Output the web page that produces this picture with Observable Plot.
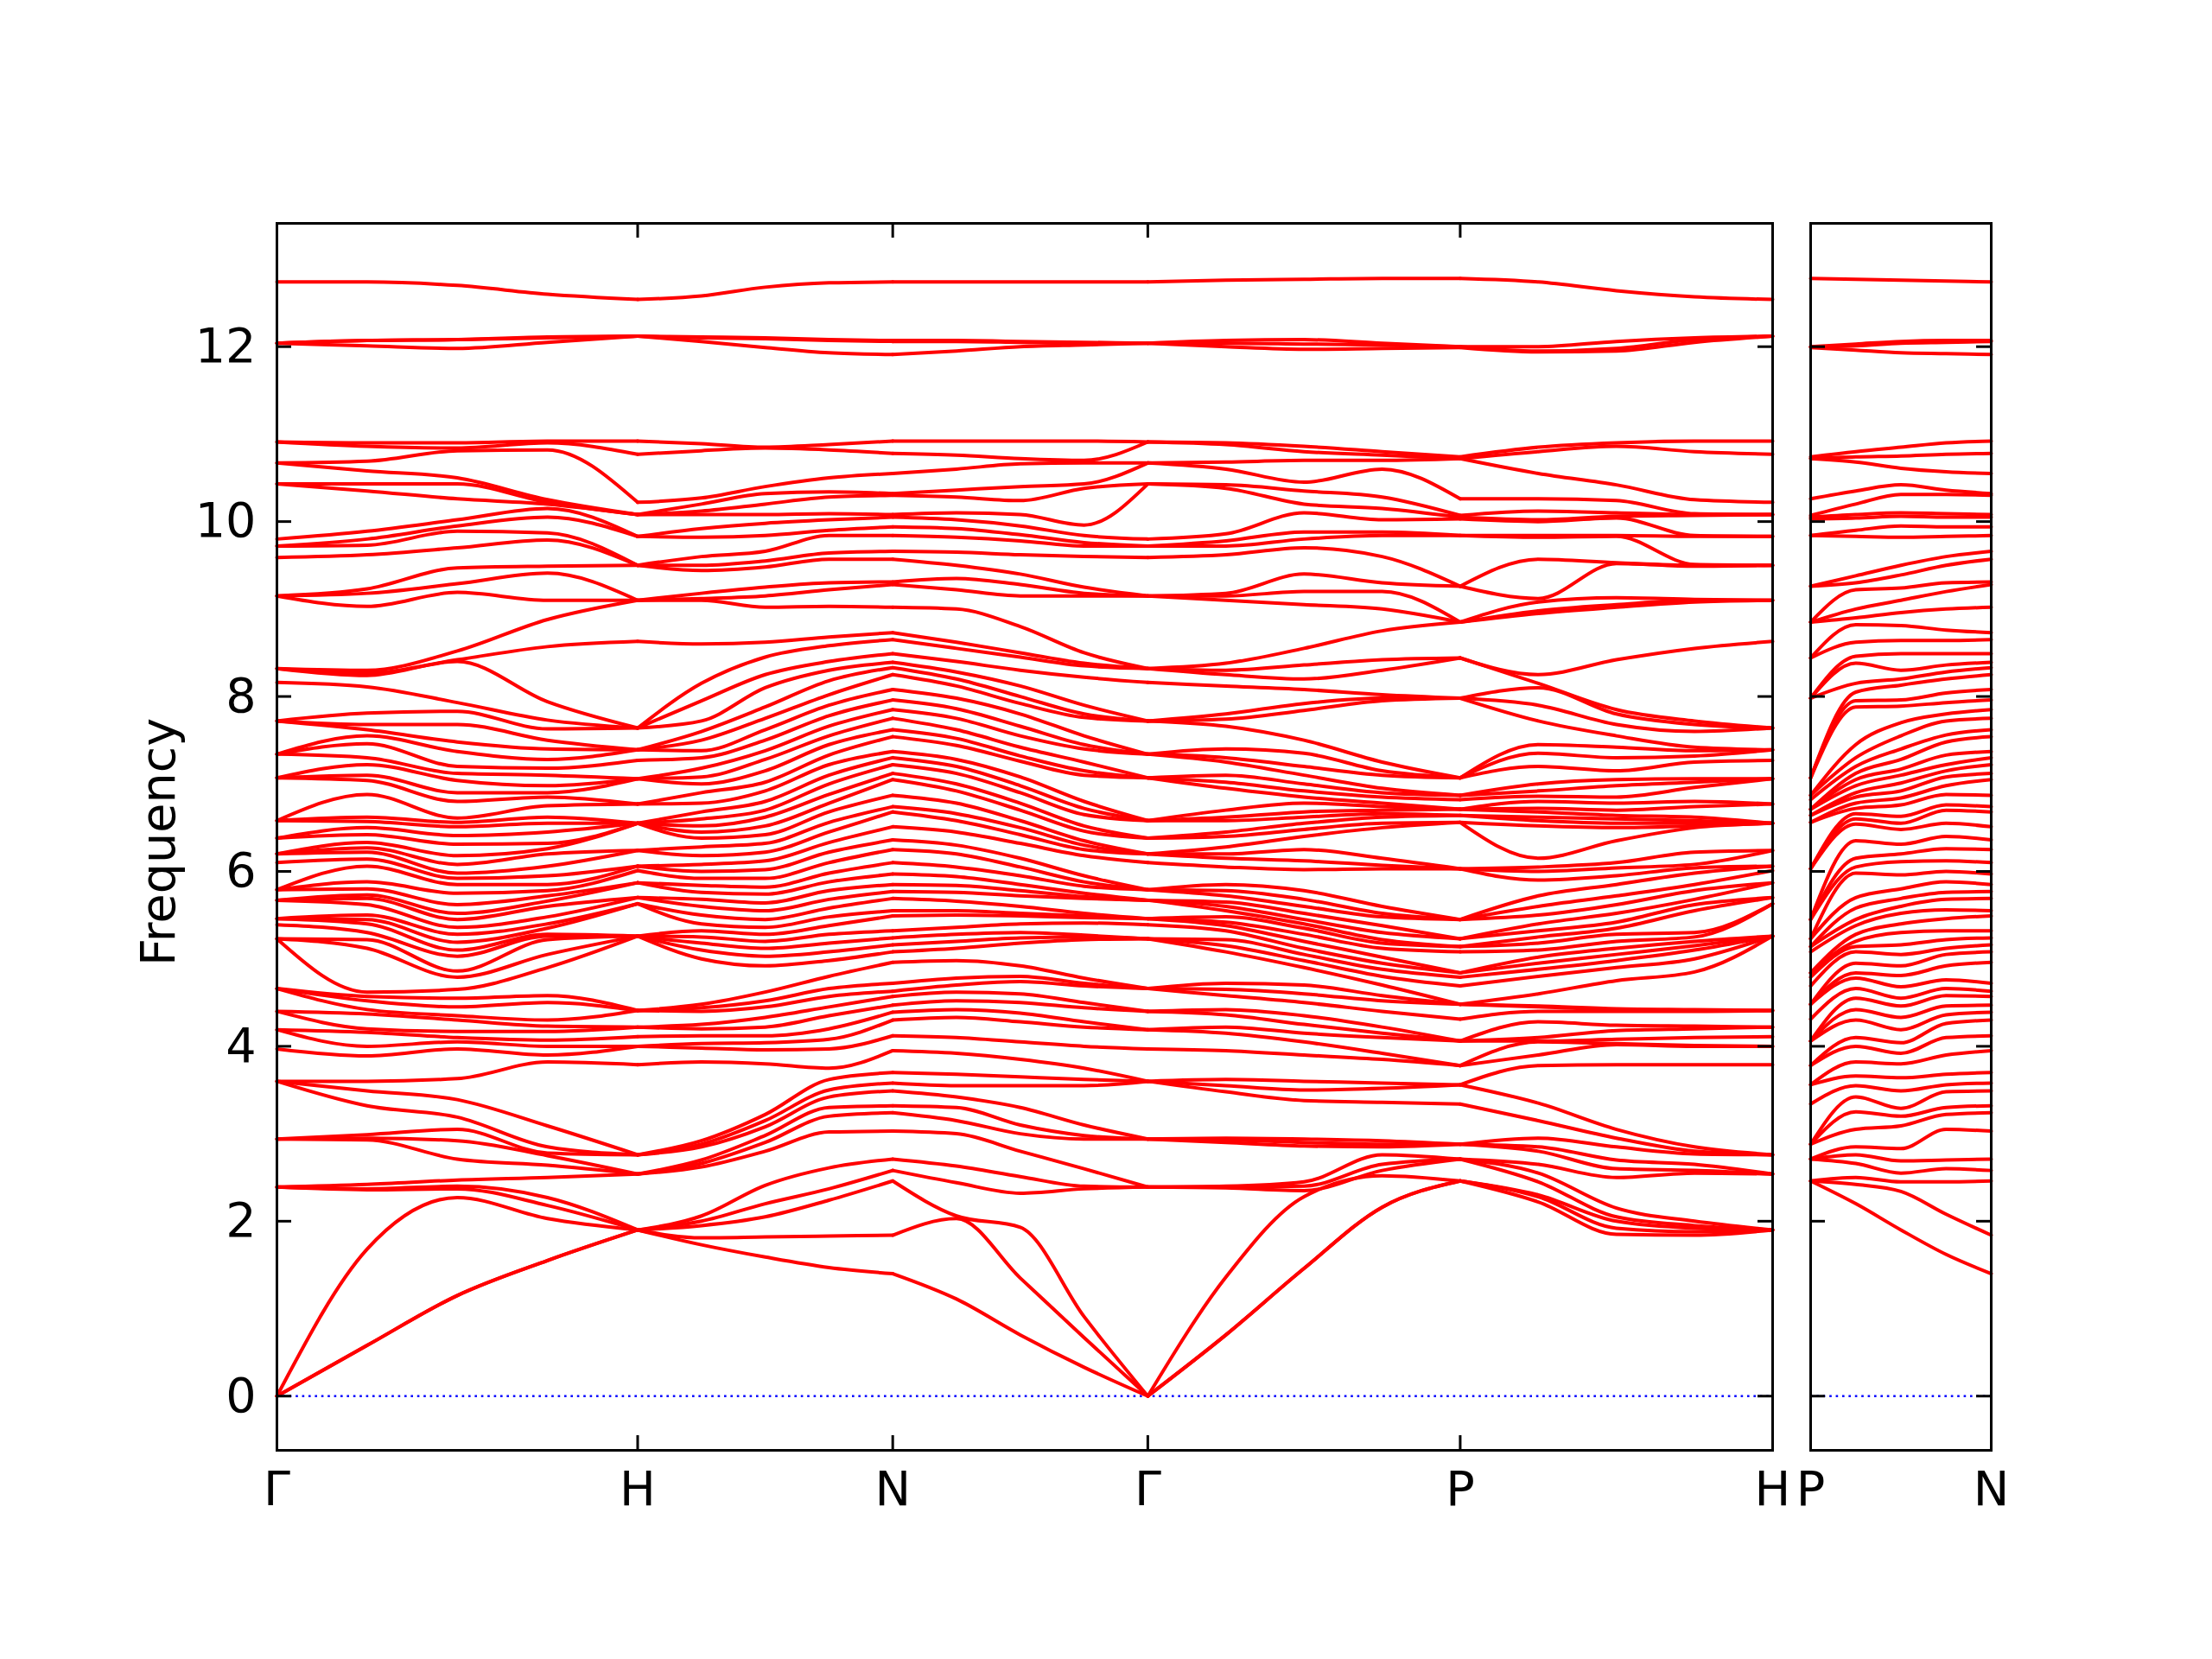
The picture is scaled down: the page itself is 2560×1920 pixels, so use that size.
<!DOCTYPE html>
<html>
<head>
<meta charset="utf-8">
<script src="https://cdn.jsdelivr.net/npm/d3@7"></script>
<script src="https://cdn.jsdelivr.net/npm/@observablehq/plot@0.6"></script>
<style>
  html, body { margin: 0; padding: 0; background: #ffffff; }
  #wrap { position: relative; width: 2560px; height: 1920px; overflow: hidden; background: #ffffff; }
  #left { position: absolute; left: 0; top: 0; width: 2070px; height: 1920px; }
  #right { position: absolute; left: 2040px; top: 0; width: 283px; height: 1920px; }
</style>
</head>
<body>
<div id="wrap"><div id="left"></div><div id="right"></div></div>
<script>
// ---------- tick labels / path ----------
const yTicks = [0, 2, 4, 6, 8, 10, 12];
const leftLabels = ["Γ", "H", "N", "Γ", "P", "H"];
const leftDist = [0, 1.0, 1.7071, 2.4142, 3.2802, 4.1463];
const rightLabels = ["P", "N"];
const rightDist = [0, 0.5];

// ---------- frequencies at high-symmetry points (sorted, descending) ----------
const G = [
12.74, 12.04, 12.04, 12.04, 10.91, 10.91, 10.67, 10.67, 10.43, 10.43,
9.80, 9.72, 9.72, 9.59, 9.15, 9.15, 9.15, 8.32, 8.32, 8.32,
8.16, 7.72, 7.72, 7.72, 7.34, 7.34, 7.34, 7.07, 7.07, 7.07,
6.58, 6.58, 6.58, 6.38, 6.38, 6.20, 6.20, 6.20, 6.10, 5.79,
5.79, 5.79, 5.67, 5.67, 5.67, 5.46, 5.46, 5.46, 5.39, 5.23,
5.23, 5.23, 4.66, 4.66, 4.66, 4.40, 4.40, 4.19, 4.19, 3.97,
3.60, 3.60, 3.60, 2.94, 2.94, 2.94, 2.39, 2.39, 2.39, 0,
0, 0];
const H = [
12.54, 12.12, 12.12, 12.12, 10.92, 10.77, 10.22, 10.08, 10.08, 10.08,
9.83, 9.83, 9.50, 9.50, 9.50, 9.10, 9.10, 9.10, 8.63, 7.64,
7.64, 7.64, 7.39, 7.39, 7.39, 7.27, 7.06, 7.06, 7.06, 6.77,
6.77, 6.55, 6.55, 6.55, 6.55, 6.55, 6.24, 6.24, 6.06, 6.06,
6.01, 5.87, 5.87, 5.70, 5.70, 5.63, 5.63, 5.26, 5.26, 5.26,
5.26, 5.26, 4.41, 4.41, 4.41, 4.22, 4.22, 4.11, 4.00, 4.00,
3.79, 2.76, 2.76, 2.76, 2.54, 2.54, 2.54, 1.90, 1.90, 1.90,
1.90, 1.90];
const N = [
12.74, 12.07, 12.06, 11.91, 10.92, 10.78, 10.55, 10.32, 10.30, 10.08,
10.05, 9.94, 9.84, 9.66, 9.57, 9.31, 9.28, 9.02, 8.73, 8.65,
8.49, 8.39, 8.33, 8.25, 8.08, 7.96, 7.85, 7.75, 7.62, 7.54,
7.37, 7.30, 7.22, 7.12, 7.05, 6.87, 6.74, 6.68, 6.51, 6.36,
6.25, 6.10, 5.97, 5.85, 5.77, 5.69, 5.55, 5.49, 5.32, 5.24,
5.16, 5.08, 4.96, 4.72, 4.63, 4.57, 4.47, 4.39, 4.30, 4.12,
3.95, 3.70, 3.58, 3.49, 3.32, 3.24, 3.03, 2.71, 2.58, 2.46,
1.84, 1.40];
const P = [
12.78, 12.00, 12.00, 11.99, 10.74, 10.72, 10.72, 10.26, 10.07, 10.05,
10.03, 9.84, 9.84, 9.26, 9.26, 8.85, 8.85, 8.85, 8.44, 8.44,
7.98, 7.98, 7.98, 7.07, 7.07, 7.07, 6.87, 6.87, 6.82, 6.71,
6.71, 6.71, 6.64, 6.64, 6.56, 6.56, 6.03, 6.03, 6.03, 5.45,
5.45, 5.45, 5.23, 5.23, 5.14, 5.14, 5.08, 4.84, 4.84, 4.79,
4.69, 4.48, 4.48, 4.48, 4.31, 4.06, 4.06, 4.06, 3.78, 3.78,
3.56, 3.56, 3.34, 2.88, 2.88, 2.88, 2.71, 2.71, 2.71, 2.46,
2.46, 2.46];

// ---------- Γ-H interior (1/4, 1/2, 3/4) ----------
const GH1 = [
12.74, 12.07, 12.07, 12.01, 10.90, 10.86, 10.69, 10.58, 10.43, 10.35,
9.89, 9.80, 9.73, 9.62, 9.23, 9.18, 9.03, 8.30, 8.27, 8.24,
8.11, 7.81, 7.68, 7.62, 7.55, 7.46, 7.30, 7.22, 7.10, 7.04,
6.88, 6.62, 6.57, 6.50, 6.42, 6.33, 6.27, 6.22, 6.14, 6.06,
5.88, 5.80, 5.73, 5.69, 5.62, 5.50, 5.45, 5.40, 5.30, 5.22,
5.12, 4.62, 4.57, 4.52, 4.42, 4.37, 4.20, 4.16, 4.00, 3.89,
3.60, 3.49, 3.32, 2.99, 2.95, 2.93, 2.42, 2.37, 2.36, 1.68,
0.58, 0.58];
const GH2 = [
12.70, 12.08, 12.08, 11.98, 10.90, 10.84, 10.81, 10.50, 10.43, 10.26,
10.02, 9.95, 9.89, 9.70, 9.47, 9.29, 9.19, 8.52, 8.42, 8.40,
7.93, 7.83, 7.68, 7.48, 7.37, 7.20, 7.12, 7.04, 6.90, 6.80,
6.61, 6.56, 6.51, 6.41, 6.31, 6.18, 6.08, 5.98, 5.92, 5.85,
5.75, 5.62, 5.52, 5.45, 5.36, 5.28, 5.19, 5.10, 5.03, 4.86,
4.79, 4.65, 4.55, 4.45, 4.35, 4.30, 4.17, 4.10, 4.05, 3.97,
3.63, 3.39, 3.19, 3.05, 2.92, 2.71, 2.47, 2.40, 2.37, 2.27,
1.15, 1.15];
const GH3 = [
12.60, 12.11, 12.10, 12.05, 10.92, 10.90, 10.82, 10.25, 10.22, 10.20,
10.15, 10.05, 9.87, 9.79, 9.49, 9.41, 9.10, 8.88, 8.57, 7.94,
7.73, 7.63, 7.50, 7.40, 7.28, 7.18, 7.10, 6.98, 6.90, 6.85,
6.75, 6.62, 6.55, 6.45, 6.32, 6.26, 6.20, 6.06, 5.95, 5.85,
5.78, 5.72, 5.66, 5.60, 5.48, 5.40, 5.35, 5.28, 5.26, 5.22,
5.05, 4.90, 4.58, 4.50, 4.30, 4.23, 4.17, 4.07, 4.00, 3.90,
3.82, 3.09, 2.85, 2.78, 2.75, 2.64, 2.50, 2.27, 2.18, 2.03,
1.55, 1.55];

// ---------- H-N interior ----------
const HN1 = [
12.58, 12.11, 12.10, 12.06, 10.89, 10.81, 10.27, 10.20, 10.12, 10.08,
9.92, 9.82, 9.60, 9.50, 9.44, 9.18, 9.12, 9.10, 8.60, 8.15,
7.95, 7.72, 7.60, 7.50, 7.38, 7.30, 7.18, 7.08, 7.00, 6.90,
6.78, 6.68, 6.60, 6.52, 6.45, 6.38, 6.28, 6.18, 6.08, 6.00,
5.92, 5.84, 5.76, 5.68, 5.60, 5.50, 5.40, 5.32, 5.25, 5.18,
5.10, 5.00, 4.48, 4.44, 4.40, 4.25, 4.20, 4.12, 4.03, 3.98,
3.82, 2.92, 2.88, 2.85, 2.70, 2.66, 2.62, 2.06, 2.00, 1.95,
1.81, 1.73];
const HN2 = [
12.68, 12.10, 12.09, 11.99, 10.85, 10.84, 10.40, 10.32, 10.20, 10.08,
9.98, 9.84, 9.66, 9.55, 9.48, 9.25, 9.15, 9.02, 8.62, 8.45,
8.25, 8.10, 7.88, 7.75, 7.62, 7.50, 7.38, 7.28, 7.15, 7.02,
6.92, 6.80, 6.70, 6.62, 6.52, 6.42, 6.32, 6.22, 6.12, 6.02,
5.92, 5.82, 5.74, 5.64, 5.55, 5.45, 5.36, 5.28, 5.20, 5.12,
5.03, 4.92, 4.62, 4.52, 4.45, 4.33, 4.22, 4.12, 4.04, 3.96,
3.80, 3.22, 3.15, 3.08, 2.98, 2.90, 2.80, 2.41, 2.20, 2.05,
1.82, 1.59];
const HN3 = [
12.73, 12.08, 12.07, 11.93, 10.88, 10.82, 10.50, 10.34, 10.28, 10.09,
10.02, 9.90, 9.84, 9.64, 9.57, 9.30, 9.22, 9.03, 8.68, 8.58,
8.40, 8.30, 8.18, 8.02, 7.90, 7.78, 7.66, 7.55, 7.45, 7.33,
7.22, 7.10, 7.00, 6.88, 6.78, 6.68, 6.56, 6.45, 6.33, 6.22,
6.10, 5.98, 5.88, 5.78, 5.68, 5.58, 5.48, 5.38, 5.28, 5.18,
5.08, 4.98, 4.80, 4.66, 4.57, 4.45, 4.35, 4.20, 4.08, 3.97,
3.75, 3.62, 3.50, 3.42, 3.30, 3.20, 3.02, 2.61, 2.37, 2.24,
1.83, 1.47];

// ---------- N-Γ interior ----------
const NG1 = [
12.74, 12.07, 12.06, 11.95, 10.92, 10.76, 10.60, 10.36, 10.28, 10.10,
10.02, 9.92, 9.82, 9.65, 9.50, 9.35, 9.22, 9.00, 8.62, 8.55,
8.40, 8.28, 8.20, 8.12, 7.98, 7.86, 7.75, 7.62, 7.52, 7.44,
7.28, 7.20, 7.12, 7.00, 6.92, 6.78, 6.66, 6.58, 6.45, 6.30,
6.20, 6.05, 5.94, 5.84, 5.76, 5.66, 5.55, 5.50, 5.36, 5.28,
5.20, 5.12, 4.98, 4.78, 4.70, 4.62, 4.52, 4.42, 4.33, 4.10,
3.92, 3.68, 3.55, 3.42, 3.30, 3.15, 3.00, 2.63, 2.44, 2.06,
2.03, 1.11];
const NG2 = [
12.74, 12.06, 12.05, 12.00, 10.92, 10.72, 10.66, 10.40, 10.24, 10.08,
9.95, 9.85, 9.78, 9.62, 9.40, 9.28, 9.15, 8.80, 8.50, 8.45,
8.30, 8.12, 8.00, 7.92, 7.80, 7.66, 7.55, 7.42, 7.32, 7.26,
7.08, 6.98, 6.90, 6.78, 6.70, 6.58, 6.50, 6.42, 6.32, 6.15,
6.05, 5.95, 5.85, 5.78, 5.72, 5.60, 5.52, 5.49, 5.40, 5.30,
5.24, 5.18, 4.92, 4.80, 4.74, 4.60, 4.50, 4.38, 4.28, 4.05,
3.85, 3.65, 3.55, 3.30, 3.10, 3.00, 2.80, 2.51, 2.32, 1.93,
1.35, 0.70];
const NG3 = [
12.74, 12.05, 12.04, 12.02, 10.92, 10.70, 10.67, 10.43, 10.38, 9.96,
9.84, 9.76, 9.72, 9.60, 9.25, 9.18, 9.15, 8.50, 8.38, 8.35,
8.22, 7.90, 7.80, 7.76, 7.55, 7.45, 7.40, 7.25, 7.15, 7.10,
6.80, 6.72, 6.65, 6.52, 6.46, 6.35, 6.30, 6.25, 6.18, 5.95,
5.88, 5.83, 5.75, 5.71, 5.69, 5.52, 5.49, 5.47, 5.41, 5.27,
5.25, 5.22, 4.78, 4.72, 4.69, 4.50, 4.44, 4.28, 4.22, 4.00,
3.75, 3.62, 3.55, 3.10, 2.98, 2.94, 2.60, 2.40, 2.37, 0.91,
0.67, 0.33];

// ---------- Γ-P interior ----------
const GP1 = [
12.76, 12.07, 12.04, 12.00, 10.90, 10.88, 10.68, 10.60, 10.42, 10.38,
9.86, 9.78, 9.72, 9.62, 9.18, 9.15, 9.10, 8.38, 8.30, 8.25,
8.12, 7.80, 7.74, 7.66, 7.40, 7.30, 7.25, 7.10, 7.02, 6.95,
6.70, 6.62, 6.58, 6.45, 6.40, 6.28, 6.20, 6.15, 6.05, 5.85,
5.78, 5.72, 5.65, 5.60, 5.55, 5.48, 5.42, 5.38, 5.32, 5.22,
5.15, 5.08, 4.72, 4.65, 4.58, 4.42, 4.36, 4.22, 4.15, 3.95,
3.62, 3.55, 3.48, 2.95, 2.93, 2.90, 2.40, 2.39, 2.38, 1.36,
0.70, 0.70];
const GP2 = [
12.77, 12.08, 12.03, 11.97, 10.86, 10.80, 10.70, 10.45, 10.35, 10.20,
10.10, 9.88, 9.80, 9.70, 9.40, 9.20, 9.05, 8.55, 8.36, 8.20,
8.08, 7.92, 7.84, 7.50, 7.35, 7.20, 7.10, 7.00, 6.92, 6.85,
6.78, 6.68, 6.62, 6.55, 6.48, 6.40, 6.25, 6.12, 6.02, 5.78,
5.68, 5.60, 5.52, 5.45, 5.40, 5.35, 5.28, 5.20, 5.12, 5.05,
4.98, 4.90, 4.70, 4.60, 4.50, 4.35, 4.25, 4.15, 4.05, 3.90,
3.60, 3.50, 3.38, 2.94, 2.90, 2.86, 2.45, 2.40, 2.35, 2.28,
1.46, 1.46];
const GP3 = [
12.78, 12.04, 12.02, 11.98, 10.80, 10.76, 10.70, 10.60, 10.28, 10.15,
10.02, 9.88, 9.84, 9.60, 9.30, 9.20, 9.00, 8.75, 8.42, 8.30,
8.02, 7.98, 7.95, 7.25, 7.15, 7.10, 6.95, 6.90, 6.85, 6.78,
6.74, 6.70, 6.66, 6.62, 6.55, 6.50, 6.15, 6.07, 6.03, 5.60,
5.52, 5.48, 5.38, 5.30, 5.22, 5.18, 5.12, 5.02, 4.95, 4.88,
4.80, 4.70, 4.58, 4.52, 4.40, 4.22, 4.15, 4.10, 3.92, 3.85,
3.58, 3.52, 3.36, 2.92, 2.88, 2.85, 2.76, 2.65, 2.58, 2.52,
2.16, 2.16];

// ---------- P-H interior ----------
const PH1 = [
12.74, 12.00, 11.95, 11.94, 10.85, 10.80, 10.55, 10.26, 10.12, 10.02,
10.00, 9.84, 9.82, 9.57, 9.12, 9.08, 8.98, 8.95, 8.25, 8.15,
8.10, 7.90, 7.72, 7.45, 7.35, 7.20, 7.00, 6.92, 6.86, 6.80,
6.72, 6.68, 6.62, 6.58, 6.52, 6.15, 6.05, 6.00, 5.90, 5.72,
5.60, 5.50, 5.40, 5.32, 5.25, 5.18, 5.10, 5.02, 4.95, 4.88,
4.80, 4.60, 4.46, 4.45, 4.40, 4.28, 4.10, 4.06, 4.05, 3.90,
3.78, 3.35, 3.15, 2.95, 2.85, 2.80, 2.65, 2.55, 2.45, 2.30,
2.28, 2.22];
const PH2 = [
12.64, 12.06, 11.98, 11.95, 10.90, 10.86, 10.42, 10.24, 10.10, 10.06,
10.04, 9.84, 9.83, 9.53, 9.52, 9.13, 9.05, 9.02, 8.42, 7.85,
7.80, 7.68, 7.55, 7.42, 7.30, 7.15, 7.05, 6.98, 6.85, 6.78,
6.70, 6.64, 6.60, 6.55, 6.50, 6.35, 6.10, 6.04, 5.95, 5.85,
5.72, 5.62, 5.52, 5.42, 5.35, 5.28, 5.20, 5.12, 5.05, 4.98,
4.90, 4.75, 4.43, 4.42, 4.40, 4.24, 4.18, 4.08, 4.03, 4.02,
3.79, 3.05, 2.95, 2.85, 2.70, 2.60, 2.50, 2.15, 2.05, 2.00,
1.92, 1.85];
const PH3 = [
12.57, 12.10, 12.08, 12.05, 10.92, 10.80, 10.25, 10.09, 10.08, 10.07,
9.84, 9.83, 9.51, 9.50, 9.49, 9.11, 9.10, 9.08, 8.55, 7.72,
7.68, 7.60, 7.42, 7.38, 7.32, 7.25, 7.06, 7.02, 6.96, 6.80,
6.74, 6.62, 6.58, 6.55, 6.52, 6.50, 6.22, 6.08, 6.04, 5.98,
5.85, 5.78, 5.68, 5.62, 5.55, 5.30, 5.25, 5.20, 5.15, 5.10,
5.00, 4.85, 4.42, 4.41, 4.40, 4.23, 4.20, 4.10, 4.01, 4.00,
3.79, 2.85, 2.80, 2.77, 2.65, 2.58, 2.55, 2.00, 1.95, 1.92,
1.88, 1.84];

// ---------- P-N interior (right panel) ----------
const PN1 = [
12.77, 12.03, 12.01, 11.96, 10.80, 10.74, 10.68, 10.35, 10.20, 10.08,
10.04, 9.90, 9.83, 9.38, 9.30, 9.22, 9.00, 8.90, 8.82, 8.62,
8.46, 8.38, 8.15, 8.05, 7.95, 7.88, 7.45, 7.30, 7.20, 7.12,
7.05, 6.98, 6.90, 6.85, 6.78, 6.72, 6.66, 6.60, 6.54, 6.35,
6.15, 6.05, 5.98, 5.70, 5.58, 5.45, 5.38, 5.28, 5.20, 5.14,
5.08, 4.95, 4.84, 4.78, 4.66, 4.55, 4.42, 4.30, 4.10, 4.00,
3.82, 3.66, 3.55, 3.42, 3.25, 3.05, 2.85, 2.76, 2.66, 2.50,
2.42, 2.20];
const PN2 = [
12.76, 12.06, 12.04, 11.93, 10.85, 10.75, 10.61, 10.42, 10.31, 10.10,
10.06, 9.95, 9.82, 9.50, 9.39, 9.24, 9.10, 8.96, 8.81, 8.64,
8.49, 8.30, 8.20, 8.13, 7.96, 7.89, 7.70, 7.55, 7.40, 7.28,
7.17, 7.10, 7.01, 6.92, 6.84, 6.76, 6.63, 6.55, 6.48, 6.31,
6.20, 6.11, 5.96, 5.80, 5.69, 5.60, 5.52, 5.40, 5.30, 5.16,
5.05, 4.92, 4.81, 4.68, 4.55, 4.46, 4.33, 4.19, 4.04, 3.92,
3.80, 3.64, 3.49, 3.29, 3.20, 3.09, 2.83, 2.69, 2.55, 2.45,
2.34, 1.90];
const PN3 = [
12.75, 12.07, 12.05, 11.92, 10.90, 10.77, 10.57, 10.36, 10.31, 10.09,
10.05, 9.94, 9.83, 9.60, 9.50, 9.30, 9.20, 9.00, 8.76, 8.64,
8.49, 8.36, 8.28, 8.20, 8.04, 7.93, 7.80, 7.72, 7.56, 7.48,
7.33, 7.22, 7.15, 7.08, 6.98, 6.88, 6.76, 6.70, 6.55, 6.40,
6.26, 6.12, 6.00, 5.88, 5.76, 5.68, 5.56, 5.46, 5.32, 5.22,
5.12, 5.05, 4.92, 4.76, 4.66, 4.58, 4.46, 4.36, 4.26, 4.10,
3.90, 3.68, 3.56, 3.48, 3.30, 3.22, 3.05, 2.70, 2.60, 2.45,
2.08, 1.62];

// ---------- assemble band table ----------
const leftSegments = [
  {x0: leftDist[0], x1: leftDist[1], cols: [G, GH1, GH2, GH3, H]},
  {x0: leftDist[1], x1: leftDist[2], cols: [H, HN1, HN2, HN3, N]},
  {x0: leftDist[2], x1: leftDist[3], cols: [N, NG1, NG2, NG3, G]},
  {x0: leftDist[3], x1: leftDist[4], cols: [G, GP1, GP2, GP3, P]},
  {x0: leftDist[4], x1: leftDist[5], cols: [P, PH1, PH2, PH3, H]}
];
const rightSegments = [
  {x0: rightDist[0], x1: rightDist[1], cols: [P, PN1, PN2, PN3, N]}
];

function bandRows(segments) {
  const rows = [];
  segments.forEach((seg, s) => {
    const n = seg.cols.length;
    const nb = Math.min(...seg.cols.map(c => c.length));
    for (let b = 0; b < nb; b++) {
      seg.cols.forEach((col, j) => {
        rows.push({key: s * 1000 + b, k: seg.x0 + (seg.x1 - seg.x0) * j / (n - 1), freq: col[b]});
      });
    }
  });
  return rows;
}

// ---------- layout ----------
const FIG_H = 1920, M_TOP = 258, M_BOTTOM = 242;
const FRAME_H = FIG_H - M_TOP - M_BOTTOM;
const Y_DOMAIN = [-0.62, 13.41];
const TICK = 17;
const FONT = "DejaVu Sans";
const FS = 55.6;
const RED = "#ff0000", BLUE = "#0000ff";

function panel({width, marginLeft, marginRight, dist, labels, segments, leftLabels}) {
  const frameW = width - marginLeft - marginRight;
  const tickData = dist.map((d, i) => ({k: d, label: labels[i]}));
  const inner = dist.slice(1, -1);
  const marks = [
    Plot.ruleY([0], {stroke: BLUE, strokeWidth: 2.6, strokeDasharray: "2.6,4.8"}),
    Plot.line(bandRows(segments), {x: "k", y: "freq", z: "key", curve: "monotone-x", stroke: RED, strokeWidth: 4}),
    Plot.ruleY(yTicks, {insetRight: frameW - TICK, stroke: "black", strokeWidth: 3}),
    Plot.ruleY(yTicks, {insetLeft: frameW - TICK, stroke: "black", strokeWidth: 3}),
    Plot.ruleX(inner, {insetBottom: FRAME_H - TICK, stroke: "black", strokeWidth: 3}),
    Plot.ruleX(inner, {insetTop: FRAME_H - TICK, stroke: "black", strokeWidth: 3}),
    Plot.frame({stroke: "black", strokeWidth: 3}),
    Plot.text(tickData, {x: "k", text: "label", frameAnchor: "bottom", lineAnchor: "top", dy: 24, fill: "black", fontSize: FS})
  ];
  if (leftLabels) {
    marks.push(Plot.text(yTicks, {y: d => d, text: d => String(d), frameAnchor: "left", textAnchor: "end", dx: -24, fill: "black", fontSize: FS}));
    marks.push(Plot.text(["Frequency"], {text: d => d, frameAnchor: "left", textAnchor: "middle", lineAnchor: "middle", rotate: -90, dx: -136, dy: 6, fill: "black", fontSize: FS}));
  }
  return Plot.plot({
    width, height: FIG_H,
    marginLeft, marginRight, marginTop: M_TOP, marginBottom: M_BOTTOM,
    x: {domain: [dist[0], dist[dist.length - 1]], axis: null},
    y: {domain: Y_DOMAIN, axis: null},
    style: {background: "transparent", color: "black", fontFamily: FONT, fontSize: FS + "px", maxWidth: "none", overflow: "visible"},
    marks
  });
}

document.getElementById("left").appendChild(panel({
  width: 2070, marginLeft: 320, marginRight: 19,
  dist: leftDist, labels: leftLabels, segments: leftSegments, leftLabels: true
}));
document.getElementById("right").appendChild(panel({
  width: 283, marginLeft: 55, marginRight: 19,
  dist: rightDist, labels: rightLabels, segments: rightSegments, leftLabels: false
}));
</script>
</body>
</html>
